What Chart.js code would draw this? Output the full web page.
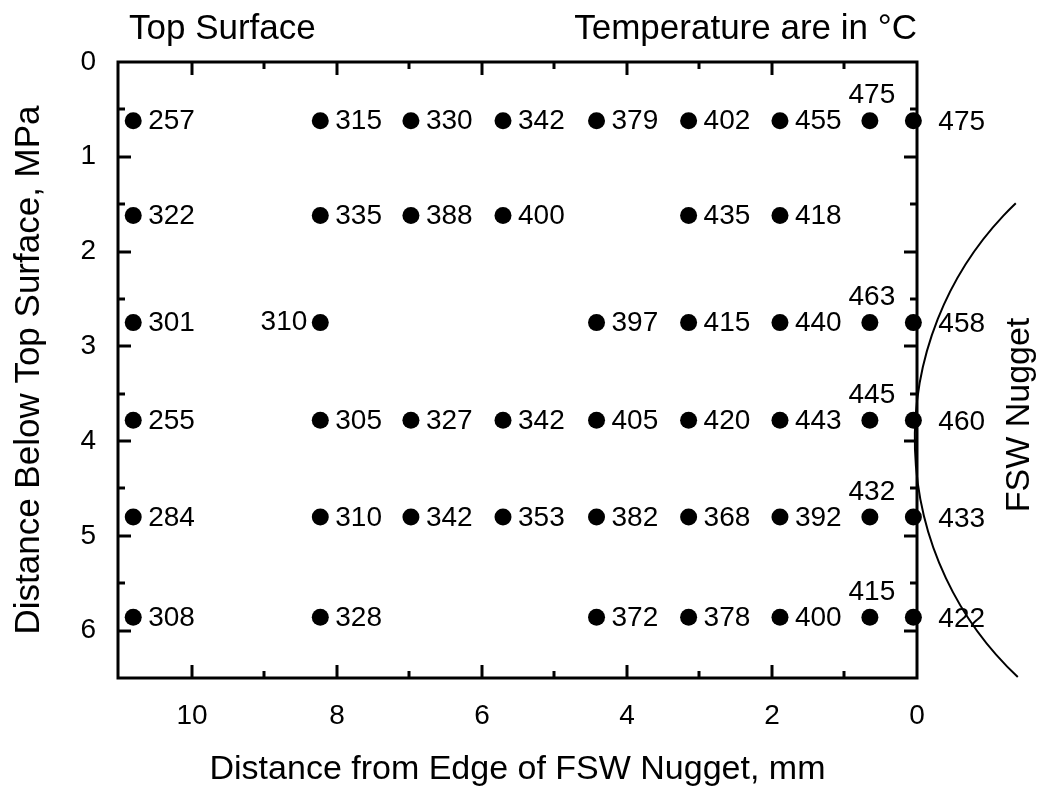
<!DOCTYPE html>
<html>
<head>
<meta charset="utf-8">
<script src="https://cdn.jsdelivr.net/npm/chart.js@4.4.1/dist/chart.umd.min.js"></script>
<style>
  html, body { margin: 0; padding: 0; background: #ffffff; }
  #wrap { width: 1042px; height: 788px; position: relative; }
</style>
</head>
<body>
<div id="wrap"><canvas id="c" width="1042" height="788"></canvas></div>
<script>
// ---- Data ----
// Distance from edge of FSW nugget (mm) for each measurement column
const edgeDistanceMm = [10.81, 8.23, 6.98, 5.71, 4.42, 3.15, 1.89, 0.65, 0.05];
// Distance below top surface for each measurement row
const depthBelowSurface = [0.62, 1.62, 2.75, 3.78, 4.80, 5.86];
// Peak temperatures (deg C), one array per row, null = no thermocouple
const tempRow1 = [257, 315, 330, 342, 379, 402, 455, 475, 475];
const tempRow2 = [322, 335, 388, 400, null, 435, 418, null, null];
const tempRow3 = [301, 310, null, null, 397, 415, 440, 463, 458];
const tempRow4 = [255, 305, 327, 342, 405, 420, 443, 445, 460];
const tempRow5 = [284, 310, 342, 353, 382, 368, 392, 432, 433];
const tempRow6 = [308, 328, null, null, 372, 378, 400, 415, 422];
const tempRows = [tempRow1, tempRow2, tempRow3, tempRow4, tempRow5, tempRow6];

// Tick values
const xTickValues = [0, 2, 4, 6, 8, 10];
const xMinorTickValues = [1, 3, 5, 7, 9];
const yTickValues = [0, 1, 2, 3, 4, 5, 6];
const yMinorTickValues = [0.5, 1.5, 2.5, 3.5, 4.5, 5.5];

// Nugget boundary arc (in data units)
const nuggetCenterX = -4.47;
const nuggetCenterY = 3.98;
const nuggetRadiusMm = 4.5;
const nuggetFromDepth = 1.49;
const nuggetToDepth = 6.49;

// ---- Build points ----
const points = [];
tempRows.forEach((row, r) => {
  row.forEach((t, c) => {
    if (t !== null) points.push({ x: edgeDistanceMm[c], y: depthBelowSurface[r], t: t, row: r, col: c });
  });
});

const FONT = '"Liberation Sans", Arial, Helvetica, sans-serif';

const overlay = {
  id: 'overlay',
  afterDatasetsDraw(chart) {
    const { ctx, chartArea: a, scales: { x, y } } = chart;
    ctx.save();
    ctx.strokeStyle = '#000';
    ctx.fillStyle = '#000';

    // frame
    ctx.lineWidth = 3;
    ctx.strokeRect(a.left, a.top, a.right - a.left, a.bottom - a.top);

    // inward ticks on all four sides
    ctx.lineWidth = 3;
    const xt = (vals, len) => vals.forEach(v => {
      const px = Math.round(x.getPixelForValue(v));
      ctx.beginPath(); ctx.moveTo(px, a.bottom); ctx.lineTo(px, a.bottom - len); ctx.stroke();
      ctx.beginPath(); ctx.moveTo(px, a.top); ctx.lineTo(px, a.top + len); ctx.stroke();
    });
    const yt = (vals, len) => vals.forEach(v => {
      const py = Math.round(y.getPixelForValue(v));
      ctx.beginPath(); ctx.moveTo(a.left, py); ctx.lineTo(a.left + len, py); ctx.stroke();
      ctx.beginPath(); ctx.moveTo(a.right, py); ctx.lineTo(a.right - len, py); ctx.stroke();
    });
    xt(xTickValues.filter(v => v !== 0), 13);
    xt(xMinorTickValues, 7);
    yt(yTickValues.filter(v => v !== 0), 13);
    yt(yMinorTickValues, 7);

    // data labels
    ctx.font = '28px ' + FONT;
    const meta = chart.getDatasetMeta(0);
    meta.data.forEach((el, i) => {
      const p = points[i];
      const px = el.x, py = el.y;
      const label = String(p.t);
      if (p.row === 2 && p.col === 1) {
        ctx.textAlign = 'right'; ctx.textBaseline = 'middle';
        ctx.fillText(label, px - 13, py);
      } else if (p.col === 7) {
        ctx.textAlign = 'center'; ctx.textBaseline = 'middle';
        ctx.fillText(label, px + 2, py - 25);
      } else if (p.col === 8) {
        ctx.textAlign = 'left'; ctx.textBaseline = 'middle';
        ctx.fillText(label, px + 25, py + 2);
      } else {
        ctx.textAlign = 'left'; ctx.textBaseline = 'middle';
        ctx.fillText(label, px + 15, py + 1);
      }
    });

    // nugget arc
    const cx = x.getPixelForValue(nuggetCenterX);
    const cy = y.getPixelForValue(nuggetCenterY);
    const R = Math.abs(x.getPixelForValue(nuggetRadiusMm) - x.getPixelForValue(0));
    const yTop = y.getPixelForValue(nuggetFromDepth);
    const yBot = y.getPixelForValue(nuggetToDepth);
    const aStart = Math.PI - Math.asin((yBot - cy) / R);
    const aEnd = Math.PI - Math.asin((yTop - cy) / R);
    ctx.lineWidth = 2;
    ctx.beginPath();
    ctx.arc(cx, cy, R, aStart, aEnd, false);
    ctx.stroke();

    // header texts
    ctx.font = '35px ' + FONT;
    ctx.textBaseline = 'alphabetic';
    ctx.textAlign = 'left';
    ctx.fillText('Top Surface', a.left + 11, 39);
    ctx.textAlign = 'right';
    ctx.fillText('Temperature are in \u00B0C', a.right, 39);

    // FSW Nugget label
    ctx.font = '34px ' + FONT;
    ctx.translate(1020, 415);
    ctx.rotate(-Math.PI / 2);
    ctx.textAlign = 'center';
    ctx.textBaseline = 'middle';
    ctx.fillText('FSW Nugget', 0, 0);

    ctx.restore();
  }
};

new Chart(document.getElementById('c'), {
  type: 'scatter',
  data: {
    datasets: [{
      data: points,
      backgroundColor: '#000',
      borderColor: '#000',
      borderWidth: 0,
      pointRadius: 8.5,
      pointHoverRadius: 8.5,
      clip: false
    }]
  },
  options: {
    responsive: false,
    devicePixelRatio: 1,
    animation: false,
    events: [],
    layout: { padding: { left: 0, right: 125, top: 62, bottom: 0 } },
    plugins: { legend: { display: false }, tooltip: { enabled: false } },
    scales: {
      x: {
        type: 'linear',
        reverse: true,
        min: 0,
        max: 11.02,
        afterBuildTicks: s => { s.ticks = xTickValues.map(v => ({ value: v })); },
        afterFit: s => { s.height = 110; },
        grid: { display: false, drawTicks: false },
        border: { display: false },
        ticks: { padding: 21, color: '#000', font: { family: FONT, size: 28, lineHeight: 1.2 }, maxRotation: 0 },
        title: { display: true, text: 'Distance from Edge of FSW Nugget, mm', color: '#000',
                 font: { family: FONT, size: 34, lineHeight: 1 }, padding: { top: 0, bottom: 1 } }
      },
      y: {
        type: 'linear',
        reverse: true,
        min: 0,
        max: 6.5,
        afterBuildTicks: s => { s.ticks = yTickValues.map(v => ({ value: v })); },
        afterFit: s => { s.width = 118; },
        grid: { display: false, drawTicks: false },
        border: { display: false },
        ticks: { padding: 22, color: '#000', font: { family: FONT, size: 28, lineHeight: 1.2 } },
        title: { display: true, text: 'Distance Below Top Surface, MPa', color: '#000',
                 font: { family: FONT, size: 35, lineHeight: 1 }, padding: { top: 12, bottom: 0 } }
      }
    }
  },
  plugins: [overlay]
});
</script>
</body>
</html>
